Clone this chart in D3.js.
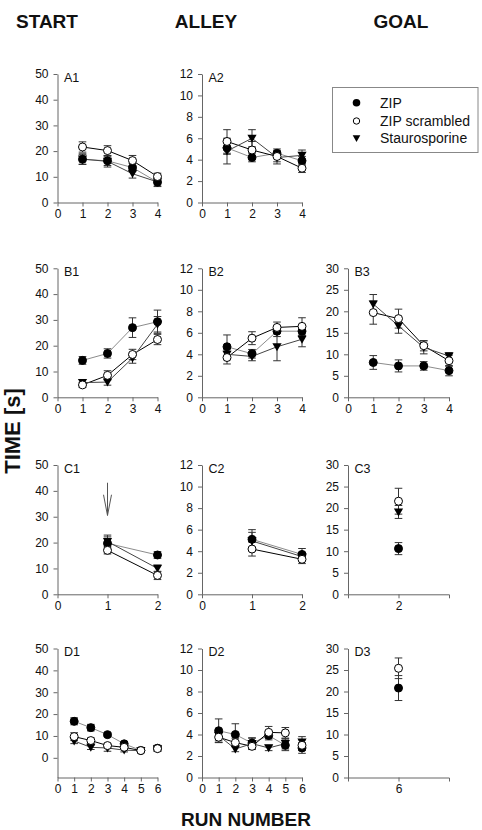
<!DOCTYPE html>
<html><head><meta charset="utf-8">
<script src="https://cdn.jsdelivr.net/npm/d3@7"></script>
<style>
body{margin:0;background:#fff}
text{font-family:"Liberation Sans",Arial,sans-serif;fill:#111}
</style>
</head><body>
<svg id="chart" width="482" height="830"></svg>
<script>
// ---------------- DATA ----------------
const groups = ["ZIP", "ZIP scrambled", "Staurosporine"];
const columnTitles = ["START", "ALLEY", "GOAL"];
const yTitle = "TIME [s]";
const xTitle = "RUN NUMBER";

const runs4 = [1, 2, 3, 4];
const runs2 = [1, 2];
const runsC3 = [2];
const runs6 = [1, 2, 3, 4, 5, 6];
const runsD3 = [6];

// A1 start
const a1Zip = [16.8, 16.2, 13.6, 7.9],  a1ZipErr = [2.0, 1.8, 1.6, 1.5];
const a1Scr = [21.6, 20.2, 16.3, 10.1], a1ScrErr = [2.0, 1.9, 2.0, 1.3];
const a1Sta = [16.9, 16.0, 11.2, 8.0],  a1StaErr = [2.0, 2.2, 1.7, 1.8];
// A2 alley
const a2Zip = [5.1, 4.2, 4.6, 3.9], a2ZipErr = [0.6, 0.4, 0.4, 0.4];
const a2Scr = [5.7, 4.9, 4.3, 3.2], a2ScrErr = [1.1, 0.8, 0.5, 0.4];
const a2Sta = [4.8, 6.0, 4.2, 4.4], a2StaErr = [1.2, 0.8, 0.6, 0.5];
// B1 start
const b1Zip = [14.3, 17.0, 27.0, 29.3], b1ZipErr = [1.5, 1.8, 3.8, 4.5];
const b1Scr = [4.8, 8.5, 16.6, 22.4],   b1ScrErr = [1.0, 1.8, 2.0, 2.0];
const b1Sta = [5.7, 5.9, 15.2, 28.3],   b1StaErr = [1.2, 1.2, 2.0, 3.0];
// B2 alley
const b2Zip = [4.7, 4.05, 6.15, 6.15], b2ZipErr = [1.1, 0.4, 0.5, 0.4];
const b2Scr = [3.7, 5.5, 6.5, 6.6],    b2ScrErr = [0.6, 0.6, 0.5, 0.8];
const b2Sta = [4.0, 3.8, 4.7, 5.4],    b2StaErr = [0.5, 0.4, 1.3, 0.7];
// B3 goal
const b3Zip = [8.1, 7.3, 7.3, 6.2],    b3ZipErr = [1.6, 1.4, 1.0, 1.2];
const b3Scr = [19.7, 18.3, 12.0, 8.5], b3ScrErr = [2.7, 2.2, 1.2, 1.3];
const b3Sta = [21.7, 16.6, 11.6, 9.6], b3StaErr = [2.2, 1.7, 1.5, 0.8];
// C1 start
const c1Zip = [19.7, 15.2], c1ZipErr = [2.5, 1.3];
const c1Scr = [17.0, 7.3],  c1ScrErr = [1.4, 1.6];
const c1Sta = [20.4, 10.0], c1StaErr = [2.5, 1.3];
// C2 alley
const c2Zip = [5.1, 3.7],   c2ZipErr = [0.9, 0.55];
const c2Scr = [4.2, 3.25],  c2ScrErr = [0.65, 0.4];
const c2Sta = [4.95, 3.5],  c2StaErr = [0.8, 0.4];
// C3 goal
const c3Zip = [10.6], c3ZipErr = [1.4];
const c3Scr = [21.6], c3ScrErr = [3.0];
const c3Sta = [19.1], c3StaErr = [1.5];
// D1 start
const d1Zip = [16.7, 13.8, 10.6, 6.4, 3.4, 4.4], d1ZipErr = [1.6, 1.5, 0.9, 0.8, 0.6, 1.3];
const d1Scr = [9.7, 7.9, 5.6, 4.8, 3.3, 4.2],    d1ScrErr = [1.8, 1.2, 1.0, 0.9, 0.6, 1.0];
const d1Sta = [7.7, 4.8, 4.5, 3.5, 3.3, 4.1],    d1StaErr = [1.2, 1.0, 1.5, 0.8, 0.6, 1.2];
// D2 alley
const d2Zip = [4.35, 4.0, 3.2, 3.9, 3.0, 2.75],  d2ZipErr = [1.1, 1.0, 0.5, 0.4, 0.5, 0.5];
const d2Scr = [3.75, 3.25, 2.9, 4.2, 4.15, 3.0], d2ScrErr = [0.5, 0.4, 0.3, 0.55, 0.5, 0.5];
const d2Sta = [3.9, 2.65, 3.15, 2.75, 3.15, 3.3], d2StaErr = [0.5, 0.25, 0.5, 0.25, 0.5, 0.5];
// D3 goal
const d3Zip = [20.8], d3ZipErr = [2.9];
const d3Scr = [25.4], d3ScrErr = [2.4];

// tick labels
const yTicksStart = [0, 10, 20, 30, 40, 50];
const yTicksAlley = [0, 2, 4, 6, 8, 10, 12];
const yTicksGoal = [0, 5, 10, 15, 20, 25, 30];
const xTicks4 = [0, 1, 2, 3, 4];
const xTicks2 = [0, 1, 2];
const xTicks6 = [0, 1, 2, 3, 4, 5, 6];

// ---------------- LAYOUT ----------------
const colX = [[57.5, 157.5], [202, 302], [348, 449]];
const rowY = [[202.5, 74], [397.3, 268.3], [594.3, 465], [777.5, 648.5]];
const lineColor = ["#8c8c8c", "#000", "#444"];

const panels = [
  {label: "A1", col: 0, row: 0, runs: runs4, xDom: [0, 4], xTicks: xTicks4, yDom: [0, 50], yTicks: yTicksStart,
   s: [[a1Zip, a1ZipErr], [a1Scr, a1ScrErr], [a1Sta, a1StaErr]]},
  {label: "A2", col: 1, row: 0, runs: runs4, xDom: [0, 4], xTicks: xTicks4, yDom: [0, 12], yTicks: yTicksAlley,
   s: [[a2Zip, a2ZipErr], [a2Scr, a2ScrErr], [a2Sta, a2StaErr]]},
  {label: "B1", col: 0, row: 1, runs: runs4, xDom: [0, 4], xTicks: xTicks4, yDom: [0, 50], yTicks: yTicksStart,
   s: [[b1Zip, b1ZipErr], [b1Scr, b1ScrErr], [b1Sta, b1StaErr]]},
  {label: "B2", col: 1, row: 1, runs: runs4, xDom: [0, 4], xTicks: xTicks4, yDom: [0, 12], yTicks: yTicksAlley,
   s: [[b2Zip, b2ZipErr], [b2Scr, b2ScrErr], [b2Sta, b2StaErr]]},
  {label: "B3", col: 2, row: 1, runs: runs4, xDom: [0, 4], xTicks: xTicks4, yDom: [0, 30], yTicks: yTicksGoal,
   s: [[b3Zip, b3ZipErr], [b3Scr, b3ScrErr], [b3Sta, b3StaErr]]},
  {label: "C1", col: 0, row: 2, runs: runs2, xDom: [0, 2], xTicks: xTicks2, yDom: [0, 50], yTicks: yTicksStart,
   s: [[c1Zip, c1ZipErr], [c1Scr, c1ScrErr], [c1Sta, c1StaErr]], arrow: true},
  {label: "C2", col: 1, row: 2, runs: runs2, xDom: [0, 2], xTicks: xTicks2, yDom: [0, 12], yTicks: yTicksAlley,
   s: [[c2Zip, c2ZipErr], [c2Scr, c2ScrErr], [c2Sta, c2StaErr]]},
  {label: "C3", col: 2, row: 2, runs: runsC3, xDom: [1, 3], xTicks: [2], yDom: [0, 30], yTicks: yTicksGoal,
   s: [[c3Zip, c3ZipErr], [c3Scr, c3ScrErr], [c3Sta, c3StaErr]], outer: true},
  {label: "D1", col: 0, row: 3, runs: runs6, xDom: [0, 6], xTicks: xTicks6, yDom: [-9, 50], yTicks: yTicksStart,
   s: [[d1Zip, d1ZipErr], [d1Scr, d1ScrErr], [d1Sta, d1StaErr]], joinMax: 5},
  {label: "D2", col: 1, row: 3, runs: runs6, xDom: [0, 6], xTicks: xTicks6, yDom: [0, 12], yTicks: yTicksAlley,
   s: [[d2Zip, d2ZipErr], [d2Scr, d2ScrErr], [d2Sta, d2StaErr]], joinMax: 5},
  {label: "D3", col: 2, row: 3, runs: runsD3, xDom: [5, 7], xTicks: [6], yDom: [0, 30], yTicks: yTicksGoal,
   s: [[d3Zip, d3ZipErr], [d3Scr, d3ScrErr], null], outer: true}
];

// ---------------- DRAW ----------------
const svg = d3.select("#chart");
const triPath = "M-4.6,-3.6L4.6,-3.6L0,4.4Z";
const fmt = d3.format("d");

function marker(g, type, x, y) {
  if (type === 2) {
    g.append("path").attr("d", triPath).attr("transform", `translate(${x},${y})`).attr("fill", "#000");
  } else {
    g.append("circle").attr("cx", x).attr("cy", y).attr("r", 4)
      .attr("fill", type === 0 ? "#000" : "#fff").attr("stroke", "#000").attr("stroke-width", 1);
  }
}

panels.forEach(p => {
  const x = d3.scaleLinear().domain(p.xDom).range(colX[p.col]);
  const y = d3.scaleLinear().domain(p.yDom).range(rowY[p.row]);
  const g = svg.append("g");

  const yAxis = d3.axisLeft(y).tickValues(p.yTicks).tickFormat(fmt).tickSize(4).tickSizeOuter(0).tickPadding(5);
  const xAxis = d3.axisBottom(x).tickValues(p.xTicks).tickFormat(fmt).tickSize(4).tickSizeOuter(p.outer ? 4 : 0).tickPadding(3);
  const ya = g.append("g").attr("transform", `translate(${colX[p.col][0]},0)`).call(yAxis);
  const xa = g.append("g").attr("transform", `translate(0,${rowY[p.row][0]})`).call(xAxis);
  [ya, xa].forEach(a => {
    a.selectAll("path,line").attr("stroke", "#666");
    a.selectAll("text").attr("font-size", 12).attr("fill", "#111")
      .style("font-family", "'Liberation Sans', Arial, sans-serif");
  });

  g.append("text").attr("x", colX[p.col][0] + 6.5).attr("y", rowY[p.row][1] + 7.5)
    .attr("font-size", 12.5).text(p.label);

  const joinMax = p.joinMax || 99;
  // lines
  p.s.forEach((ser, k) => {
    if (!ser) return;
    const pts = p.runs.map((r, i) => [r, ser[0][i]]).filter(d => d[0] <= joinMax);
    if (pts.length < 2) return;
    g.append("path").datum(pts)
      .attr("d", d3.line().x(d => x(d[0])).y(d => y(d[1])))
      .attr("fill", "none").attr("stroke", lineColor[k]).attr("stroke-width", 1);
  });
  // error bars
  p.s.forEach((ser, k) => {
    if (!ser) return;
    p.runs.forEach((r, i) => {
      const v = ser[0][i], e = ser[1][i], cx = x(r);
      g.append("line").attr("x1", cx).attr("x2", cx).attr("y1", y(v - e)).attr("y2", y(v + e))
        .attr("stroke", "#333").attr("stroke-width", 1);
      [v - e, v + e].forEach(t => g.append("line").attr("x1", cx - 3.8).attr("x2", cx + 3.8)
        .attr("y1", y(t)).attr("y2", y(t)).attr("stroke", "#333").attr("stroke-width", 1));
    });
  });
  // markers: staurosporine, ZIP, ZIP scrambled
  [2, 0, 1].forEach(k => {
    const ser = p.s[k];
    if (!ser) return;
    p.runs.forEach((r, i) => marker(g, k, x(r), y(ser[0][i])));
  });

  if (p.arrow) {
    const ax = x(1), yTop = y(38.5), yTip = y(30.5);
    const a = g.append("g").attr("stroke", "#555").attr("stroke-width", 1).attr("fill", "none");
    a.append("line").attr("x1", ax).attr("x2", ax).attr("y1", yTop - 12).attr("y2", yTip);
    a.append("path").attr("d", `M${ax - 4},${yTop}L${ax},${yTip}L${ax + 4},${yTop}`);
  }
});

// column titles
const titleX = [47, 206, 401];
columnTitles.forEach((t, i) => svg.append("text").attr("x", titleX[i]).attr("y", 28)
  .attr("text-anchor", "middle").attr("font-size", 19).attr("font-weight", "bold").text(t));

// axis titles
svg.append("text").attr("transform", "translate(20,431) rotate(-90)").attr("text-anchor", "middle")
  .attr("font-size", 22).attr("font-weight", "bold").text(yTitle);
svg.append("text").attr("x", 246).attr("y", 826).attr("text-anchor", "middle")
  .attr("font-size", 19).attr("font-weight", "bold").text(xTitle);

// legend
const lg = svg.append("g");
lg.append("rect").attr("x", 332.5).attr("y", 87.5).attr("width", 145.5).attr("height", 65)
  .attr("fill", "#fff").attr("stroke", "#888").attr("stroke-width", 1);
const legY = [102.7, 121, 138.3];
groups.forEach((gname, k) => {
  if (k === 1) {
    lg.append("circle").attr("cx", 356.5).attr("cy", legY[k]).attr("r", 3.2)
      .attr("fill", "#fff").attr("stroke", "#000");
  } else if (k === 0) {
    lg.append("circle").attr("cx", 356.5).attr("cy", legY[k]).attr("r", 3.8).attr("fill", "#000");
  } else {
    lg.append("path").attr("d", "M-3.8,-3L3.8,-3L0,3.6Z").attr("transform", `translate(356.5,${legY[k]})`).attr("fill", "#000");
  }
  lg.append("text").attr("x", 380).attr("y", legY[k] + 5).attr("font-size", 14).text(gname);
});
</script>
</body></html>
